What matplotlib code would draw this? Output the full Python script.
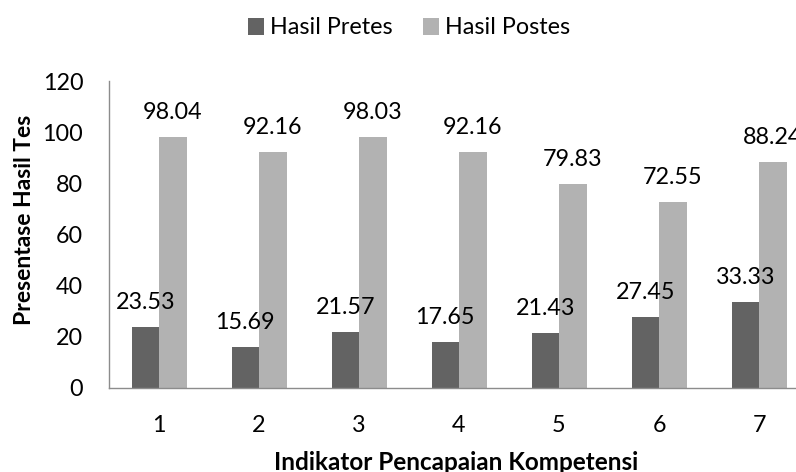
import matplotlib
matplotlib.use("Agg")
import matplotlib.pyplot as plt
import numpy as np

# data
indikator = ["1", "2", "3", "4", "5", "6", "7"]
hasil_pretes = [23.53, 15.69, 21.57, 17.65, 21.43, 27.45, 33.33]
hasil_postes = [98.04, 92.16, 98.03, 92.16, 79.83, 72.55, 88.24]
y_ticks = [0, 20, 40, 60, 80, 100, 120]

DARK = "#636363"
LIGHT = "#b2b2b2"
AXIS = "#8c8c8c"
FONT = "Lato"
FS = 16.8

plt.rcParams["font.family"] = [FONT, "DejaVu Sans"]

W, H = 796, 472
fig = plt.figure(figsize=(W / 100, H / 100), dpi=100)
# plot area runs past the right edge, as in the cropped original
ax = fig.add_axes([109 / W, 84.5 / H, 700 / W, 306.5 / H])

x = np.arange(1, len(indikator) + 1)
bw = 0.275
b1 = ax.bar(x - bw / 2, hasil_pretes, bw, color=DARK, label="Hasil Pretes")
b2 = ax.bar(x + bw / 2, hasil_postes, bw, color=LIGHT, label="Hasil Postes")

for bars in (b1, b2):
    for rect in bars:
        h = rect.get_height()
        ax.annotate(f"{h:.2f}", (rect.get_x() + rect.get_width() / 2, h),
                    xytext=(0, 13), textcoords="offset points",
                    ha="center", va="baseline", fontsize=FS,
                    annotation_clip=False)

ax.set_xlim(0.5, len(indikator) + 0.5)
ax.set_ylim(0, 120)
ax.set_yticks(y_ticks)
ax.set_xticks(x)
ax.set_xticklabels(indikator)
ax.tick_params(axis="y", length=0, pad=18.5, labelsize=FS)
ax.tick_params(axis="x", length=0, pad=20, labelsize=FS)

for side in ("top", "right"):
    ax.spines[side].set_visible(False)
for side in ("left", "bottom"):
    ax.spines[side].set_color(AXIS)
    ax.spines[side].set_linewidth(1.0)

fig.text(31 / W, 1 - 220 / H, "Presentase Hasil Tes", rotation=90,
         rotation_mode="anchor", ha="center", va="baseline",
         fontsize=16.5, fontweight="bold")
fig.text(456 / W, 2 / H, "Indikator Pencapaian Kompetensi",
         ha="center", va="baseline", fontsize=17.5, fontweight="bold")

fig.legend(handles=[b1, b2], loc="center", bbox_to_anchor=(409 / W, 1 - 28 / H),
           ncol=2, frameon=False, fontsize=FS, borderpad=0,
           handlelength=0.7, handleheight=0.7, handletextpad=0.25,
           columnspacing=1.3)

fig.savefig("out.png", dpi=100)
